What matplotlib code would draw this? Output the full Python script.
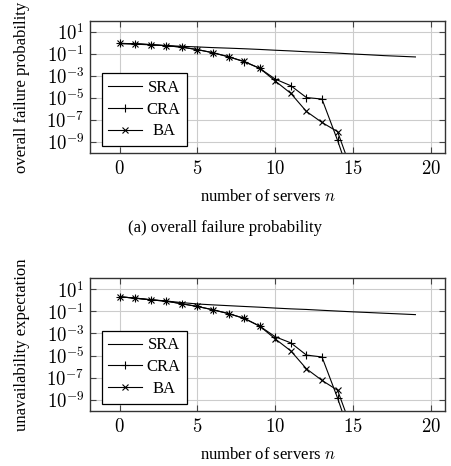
import numpy as np
import matplotlib
matplotlib.use("Agg")
import matplotlib.pyplot as plt
from matplotlib.ticker import NullLocator, FuncFormatter, FixedLocator
from matplotlib.transforms import Affine2D

plt.rcParams['font.family'] = ['Liberation Serif', 'DejaVu Serif']
plt.rcParams['mathtext.fontset'] = 'cm'

# ---- data ----
n_sra = list(range(0, 20))
n_alg = list(range(0, 16))

# (a) overall failure probability
fail_sra = [0.89, 0.78, 0.68, 0.59, 0.50, 0.44, 0.38, 0.34, 0.30, 0.26,
            0.22, 0.19, 0.16, 0.14, 0.12, 0.10, 0.085, 0.071, 0.062, 0.054]
fail_cra = [0.91, 0.87, 0.71, 0.56, 0.42, 0.25, 0.13, 0.056, 0.020, 0.005,
            5.2e-4, 1.3e-4, 1.1e-5, 8.0e-6, 1.4e-9, 1e-13]
fail_ba = [0.91, 0.87, 0.71, 0.56, 0.42, 0.25, 0.13, 0.056, 0.021, 0.005,
           3.5e-4, 2.6e-5, 6.0e-7, 6.0e-8, 8.7e-9, 1e-12]

# (b) unavailability expectation
unav_sra = [2.1, 1.6, 1.17, 0.87, 0.63, 0.47, 0.39, 0.33, 0.28, 0.24,
            0.20, 0.17, 0.15, 0.126, 0.107, 0.091, 0.079, 0.068, 0.059, 0.051]
unav_cra = [2.1, 1.6, 1.1, 0.85, 0.49, 0.28, 0.14, 0.063, 0.023, 0.0046,
            5.0e-4, 1.4e-4, 1.1e-5, 7.4e-6, 1.4e-9, 1e-13]
unav_ba = [2.1, 1.6, 1.1, 0.85, 0.49, 0.28, 0.14, 0.063, 0.024, 0.0046,
           3.2e-4, 2.6e-5, 6.3e-7, 5.6e-8, 7.1e-9, 1e-12]

xticks = [0, 5, 10, 15, 20]
yticks = [1e1, 1e-1, 1e-3, 1e-5, 1e-7, 1e-9]
labels = ['SRA', 'CRA', 'BA']
ylabels = ['overall failure probability', 'unavailability expectation']
xlabel = 'number of servers $n$'
caption = '(a) overall failure probability'

FS = 12
TFS = 13.5
fig = plt.figure(figsize=(4.52, 4.66), dpi=100)
W, H = 452, 466

def make_axes(top_px, bot_px):
    left, right = 90, 445
    return fig.add_axes([left / W, 1 - bot_px / H, (right - left) / W, (bot_px - top_px) / H])

ax1 = make_axes(21, 153)
ax2 = make_axes(278.3, 410.7)

series = [
    (ax1, fail_sra, fail_cra, fail_ba, ylabels[0]),
    (ax2, unav_sra, unav_cra, unav_ba, ylabels[1]),
]

yfmt = FuncFormatter(lambda v, p: r'$10^{%d}$' % int(round(np.log10(v))))
xfmt = FuncFormatter(lambda v, p: r'$%d$' % int(round(v)))

legends = []
for ax, s, c, b, yl in series:
    ax.set_yscale('log')
    ax.plot(n_sra, s, color='black', lw=0.8, label=labels[0])
    ax.plot(n_alg, c, color='black', lw=0.8, marker='+', ms=5.5, mew=0.8, label=labels[1])
    ax.plot(n_alg, b, color='black', lw=0.8, marker='x', ms=4.3, mew=0.8, label=labels[2])
    ax.set_xlim(-1.9, 20.9)
    ax.set_ylim(1e-10, 1e2)
    ax.xaxis.set_major_locator(FixedLocator(xticks))
    ax.xaxis.set_major_formatter(xfmt)
    ax.yaxis.set_major_locator(FixedLocator(yticks))
    ax.yaxis.set_major_formatter(yfmt)
    ax.yaxis.set_minor_locator(NullLocator())
    ax.grid(True, color='#cccccc', lw=0.8)
    ax.set_axisbelow(True)
    ax.tick_params(direction='in', length=4, width=0.8, color='#444444',
                   top=True, right=True, labelsize=TFS)
    ax.tick_params(axis='y', pad=4)
    ax.tick_params(axis='x', pad=5)
    for sp in ax.spines.values():
        sp.set_color('#333333')
        sp.set_linewidth(1.0)
    ax.set_xlabel(xlabel, fontsize=FS, va='center')
    ax.xaxis.set_label_coords(0.5, -(196.7 - 153) / 132)
    ax.set_ylabel(yl, fontsize=FS, va='center', ha='center')
    ax.yaxis.set_label_coords((21.7 - 90) / 355, 0.5)
    leg = ax.legend(loc='lower left', bbox_to_anchor=(0.033, 0.053), borderaxespad=0,
                    fontsize=FS, frameon=True, fancybox=False, edgecolor='black',
                    handlelength=2.0, handletextpad=0.3, labelspacing=0.35,
                    borderpad=0.4, framealpha=1)
    leg.get_frame().set_linewidth(0.9)
    legends.append(leg)

fig.text(0.498, 1 - 227.7 / H, caption, fontsize=FS, ha='center', va='center')

# center legend texts like pgfplots
fig.canvas.draw()
r = fig.canvas.get_renderer()
for leg in legends:
    texts = leg.get_texts()
    widths = [t.get_window_extent(r).width for t in texts]
    wmax = max(widths)
    for t, w in zip(texts, widths):
        dx = (wmax - w) / 2
        if dx > 0:
            t.set_transform(t.get_transform() + Affine2D().translate(dx, 0))

fig.savefig('out.png', dpi=100)
